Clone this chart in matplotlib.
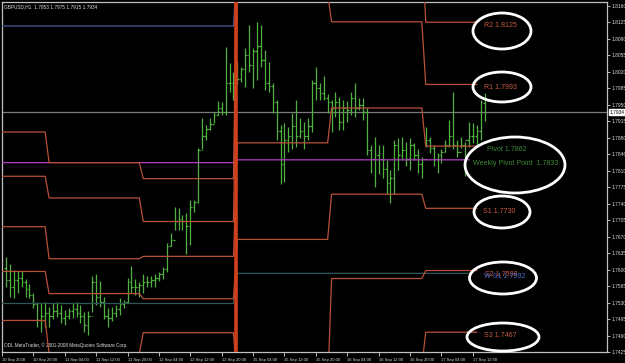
import numpy as np
import matplotlib
matplotlib.use("Agg")
import matplotlib.pyplot as plt
from matplotlib.patches import Ellipse
from matplotlib.transforms import blended_transform_factory

plt.rcParams['font.family'] = ['Liberation Sans', 'DejaVu Sans']

symbol = "GBPUSD,H1"

# ---- hourly OHLC bars (index 0 = 10 Sep 13:00) ----
highs = [1.7626,1.7611,1.7600,1.7596,1.7596,1.7579,1.7569,1.7551,1.7532,1.7530,
         1.7532,1.7521,1.7530,1.7532,1.7525,1.7515,1.7519,1.7530,1.7532,1.7525,
         1.7509,1.7511,1.7586,1.7590,1.7575,1.7542,1.7519,1.7521,1.7525,1.7540,
         1.7536,1.7583,1.7607,1.7579,1.7573,1.7590,1.7586,1.7586,1.7590,1.7594,
         1.7605,1.7657,1.7678,1.7733,1.7731,1.7716,1.7721,1.7748,1.7748,1.7859,
         1.7922,1.7907,1.7922,1.7935,1.7957,1.7955,1.8073,1.8039,1.8020,1.8041,
         1.8029,1.8071,1.8119,1.8071,1.8126,1.8119,1.8067,1.8041,1.7997,1.7961,
         1.7907,1.7911,1.7903,1.7933,1.7961,1.7922,1.7914,1.7922,1.8003,1.8031,
         1.7997,1.8010,1.7972,1.7961,1.7976,1.7967,1.7961,1.7957,1.7976,1.7997,
         1.7965,1.7965,1.7943,1.7865,1.7882,1.7865,1.7865,1.7833,1.7812,1.7876,
         1.7880,1.7882,1.7871,1.7880,1.7869,1.7855,1.7840,1.7903,1.7882,1.7865,
         1.7848,1.7855,1.7876,1.7918,1.7978,1.7876,1.7882,1.7871,1.7914,1.7911,
         1.7907,1.7961,1.7975]
lows = [1.7564,1.7542,1.7540,1.7551,1.7564,1.7542,1.7540,1.7519,1.7479,1.7468,
        1.7479,1.7479,1.7494,1.7500,1.7487,1.7483,1.7494,1.7498,1.7500,1.7487,
        1.7468,1.7462,1.7509,1.7525,1.7521,1.7494,1.7479,1.7490,1.7500,1.7504,
        1.7519,1.7530,1.7551,1.7547,1.7542,1.7551,1.7562,1.7564,1.7564,1.7575,
        1.7579,1.7594,1.7649,1.7685,1.7685,1.7685,1.7632,1.7653,1.7723,1.7742,
        1.7855,1.7876,1.7897,1.7911,1.7928,1.7928,1.7928,1.7976,1.7961,1.7993,
        1.7999,1.7988,1.8020,1.7986,1.8003,1.8031,1.7982,1.7978,1.7933,1.7876,
        1.7781,1.7785,1.7850,1.7855,1.7861,1.7880,1.7855,1.7876,1.7892,1.7961,
        1.7961,1.7961,1.7933,1.7892,1.7924,1.7897,1.7897,1.7914,1.7928,1.7924,
        1.7939,1.7918,1.7844,1.7806,1.7776,1.7802,1.7795,1.7760,1.7742,1.7760,
        1.7812,1.7833,1.7819,1.7812,1.7833,1.7806,1.7795,1.7861,1.7848,1.7819,
        1.7806,1.7827,1.7850,1.7861,1.7855,1.7840,1.7859,1.7798,1.7861,1.7869,
        1.7865,1.7876,1.7915]
opens = [1.7603,1.7578,1.7563,1.7578,1.7583,1.7573,1.7558,1.7547,1.7527,1.7492,
         1.7502,1.7507,1.7502,1.7512,1.7507,1.7497,1.7502,1.7512,1.7517,1.7507,
         1.7502,1.7482,1.7502,1.7573,1.7542,1.7532,1.7502,1.7497,1.7507,1.7517,
         1.7527,1.7532,1.7573,1.7563,1.7563,1.7568,1.7573,1.7573,1.7578,1.7583,
         1.7591,1.7601,1.7651,1.7663,1.7703,1.7708,1.7703,1.7693,1.7733,1.7743,
         1.7854,1.7884,1.7899,1.7909,1.7929,1.7944,1.7934,1.7995,1.7995,1.8010,
         1.8005,1.8025,1.8055,1.8035,1.8065,1.8075,1.8045,1.7995,1.7990,1.7955,
         1.7894,1.7824,1.7874,1.7884,1.7904,1.7884,1.7894,1.7884,1.7904,1.7995,
         1.7985,1.7975,1.7965,1.7955,1.7944,1.7955,1.7914,1.7944,1.7939,1.7965,
         1.7944,1.7949,1.7934,1.7854,1.7834,1.7844,1.7834,1.7814,1.7784,1.7794,
         1.7864,1.7844,1.7854,1.7834,1.7864,1.7844,1.7824,1.7834,1.7874,1.7859,
         1.7834,1.7844,1.7849,1.7864,1.7884,1.7864,1.7849,1.7864,1.7874,1.7884,
         1.7884,1.7894,1.7953]
closes = [1.7578,1.7563,1.7578,1.7583,1.7573,1.7558,1.7547,1.7527,1.7492,1.7502,
          1.7507,1.7502,1.7512,1.7507,1.7497,1.7502,1.7512,1.7517,1.7507,1.7502,
          1.7482,1.7502,1.7573,1.7542,1.7532,1.7502,1.7497,1.7507,1.7517,1.7527,
          1.7532,1.7573,1.7563,1.7563,1.7568,1.7573,1.7573,1.7578,1.7583,1.7591,
          1.7601,1.7651,1.7663,1.7703,1.7708,1.7703,1.7693,1.7733,1.7743,1.7854,
          1.7884,1.7899,1.7909,1.7929,1.7944,1.7934,1.7995,1.7995,1.8010,1.8005,
          1.8025,1.8055,1.8035,1.8065,1.8075,1.8045,1.7995,1.7990,1.7955,1.7894,
          1.7824,1.7874,1.7884,1.7904,1.7884,1.7894,1.7884,1.7904,1.7995,1.7985,
          1.7975,1.7965,1.7955,1.7944,1.7955,1.7914,1.7944,1.7939,1.7965,1.7944,
          1.7949,1.7934,1.7854,1.7834,1.7844,1.7834,1.7814,1.7784,1.7794,1.7864,
          1.7844,1.7854,1.7834,1.7864,1.7844,1.7824,1.7834,1.7874,1.7859,1.7834,
          1.7844,1.7849,1.7864,1.7884,1.7864,1.7849,1.7864,1.7874,1.7884,1.7884,
          1.7894,1.7955,1.7934]

# ---- daily pivot levels (10, 11, 12, 15, 16, 17 Sep) ----
day_start = [-1, 11, 35, 59, 83, 107]
day_end = [10, 34, 58, 82, 106, 120]
R2 = [1.7892, 1.7827, 1.7793, 1.8385, 1.8304, 1.8125]
R1 = [1.7798, 1.7752, 1.7702, 1.8185, 1.8126, 1.7993]
PP = [1.7691, 1.7623, 1.7628, 1.7869, 1.7943, 1.7862]
S1 = [1.7596, 1.7549, 1.7538, 1.7664, 1.7760, 1.7730]
S2 = [1.7492, 1.7422, 1.7466, 1.7347, 1.7581, 1.7598]
S3 = [1.7395, 1.7346, 1.7374, 1.7142, 1.7395, 1.7467]

# ---- weekly levels ----
week_start = [-1, 59]
week_end = [58, 118]
WR1 = [1.8117, 1.8250]
WPP = [1.7827, 1.7833]
WS1 = [1.7528, 1.7592]

current_price = 1.7934

ytick_labels = ["1.8160", "1.8125", "1.8090", "1.8055", "1.8020", "1.7985", "1.7950",
                "1.7915", "1.7880", "1.7846", "1.7810", "1.7775", "1.7740", "1.7705",
                "1.7670", "1.7635", "1.7600", "1.7565", "1.7530", "1.7495", "1.7460", "1.7425"]
xtick_pos = [-1, 7, 15, 23, 31, 39, 47, 55, 63, 71, 79, 87, 95, 103, 111, 119]
xtick_labels = ["10 Sep 2008", "10 Sep 20:00", "11 Sep 04:00", "11 Sep 12:00", "11 Sep 20:00",
                "12 Sep 04:00", "12 Sep 12:00", "12 Sep 20:00", "15 Sep 04:00", "15 Sep 12:00",
                "15 Sep 20:00", "16 Sep 04:00", "16 Sep 12:00", "16 Sep 20:00", "17 Sep 04:00",
                "17 Sep 12:00"]

W, H = 625, 363
fig = plt.figure(figsize=(W / 100, H / 100), dpi=100, facecolor='black')
ax = fig.add_axes([2 / W, 11 / H, 605 / W, 350 / H])
ax.set_facecolor('black')

bar_col = '#50b040'
piv_col = '#b8503a'

idx = np.arange(len(highs))
ax.vlines(idx, lows, highs, color=bar_col, lw=0.9, zorder=2)
ax.hlines(opens, idx - 0.4, idx, color=bar_col, lw=0.9, zorder=2)
ax.hlines(closes, idx, idx + 0.4, color=bar_col, lw=0.9, zorder=2)


def stepped(levels, starts, ends):
    xs, ys = [], []
    for lv, s, e in zip(levels, starts, ends):
        for i in range(s, e + 1):
            xs.append(i)
            ys.append(lv)
    return xs, ys


ax.axhline(current_price, color='#7a7a7a', lw=0.9, zorder=1)

for lv, col in ((WR1, '#4a5a9a'), (WPP, '#b040c0'), (WS1, '#2e5858')):
    xs, ys = stepped(lv, week_start, week_end)
    ax.plot(xs, ys, color=col, lw=0.9, zorder=3)

for lv in (R2, R1, PP, S1, S2, S3):
    xs, ys = stepped(lv, day_start, day_end)
    ax.plot(xs, ys, color=piv_col, lw=0.9, zorder=4)

ax.axvline(58.6, color='#d0401c', lw=2.6, zorder=4)

ax.set_xlim(-0.763, 153.2)
ax.set_ylim(1.7426, 1.8168)

for s in ax.spines.values():
    s.set_color('#c0c0c0')
    s.set_linewidth(0.9)

ax.yaxis.tick_right()
ax.set_yticks([float(t) for t in ytick_labels], ytick_labels)
ax.tick_params(axis='y', colors='#d8d8d8', labelsize=3.5, length=2, width=0.6, pad=1.0)
ax.set_xticks(xtick_pos, xtick_labels)
ax.tick_params(axis='x', colors='#d8d8d8', labelsize=3.0, length=3, width=0.6, pad=1)
for lab in ax.get_xticklabels():
    lab.set_horizontalalignment('left')

# current price box
tr = blended_transform_factory(ax.transAxes, ax.transData)
ax.text(1.004, current_price, f"{current_price:.4f}", transform=tr, fontsize=3.5,
        color='black', va='center', ha='left', clip_on=False,
        bbox=dict(boxstyle='square,pad=0.15', fc='white', ec='white'))

# header
header = f"{symbol}  {opens[-1]:.4f} {highs[-1]:.4f} {lows[-1]:.4f} {closes[-1]:.4f}"
ax.text(0.004, 0.993, header, transform=ax.transAxes, fontsize=3.4, color='#e0e0e0',
        va='top', ha='left')
ax.text(0.003, 0.012, "ODL MetaTrader, \u00a9 2001-2008 MetaQuotes Software Corp.",
        transform=ax.transAxes, fontsize=3.3, color='#e0e0e0', va='bottom', ha='left')

# level labels
red_txt = '#c85a44'
grn_txt = '#3f8a36'
lab_fs = 5.1
labels = [
    (121.9, R2[-1], f"R2 {R2[-1]:.4f}", red_txt),
    (121.9, R1[-1], f"R1 {R1[-1]:.4f}", red_txt),
    (122.6, PP[-1], f"Pivot {PP[-1]:.4f}", grn_txt),
    (119.1, WPP[-1], f"Weekly Pivot Point  {WPP[-1]:.4f}", grn_txt),
    (121.6, S1[-1], f"S1 {S1[-1]:.4f}", red_txt),
    (122.1, S2[-1], f"S2 {S2[-1]:.4f}", red_txt),
    (121.9, WS1[-1], f"W S1 {WS1[-1]:.4f}", '#4a6ad0'),
    (121.9, S3[-1], f"S3 {S3[-1]:.4f}", red_txt),
]
for x, y, t, c in labels:
    ax.annotate(t, (x, y), xytext=(0, -3.5), textcoords='offset pixels', color=c,
                fontsize=lab_fs, va='center', ha='left', zorder=6)

# white hand-drawn ellipses (pixel geometry of the annotation)
ellipses = [(502, 31, 58, 36), (502, 87, 58, 30), (515, 165, 100, 56),
            (502, 212, 56, 32), (503, 278, 67, 32), (503, 337, 72, 28)]
for cx, cy, w, h in ellipses:
    fig.add_artist(Ellipse((cx / W, 1 - cy / H), w / W, h / H, transform=fig.transFigure,
                           fill=False, ec='white', lw=2.0, zorder=10))

fig.savefig('out.png', dpi=100, facecolor='black')
